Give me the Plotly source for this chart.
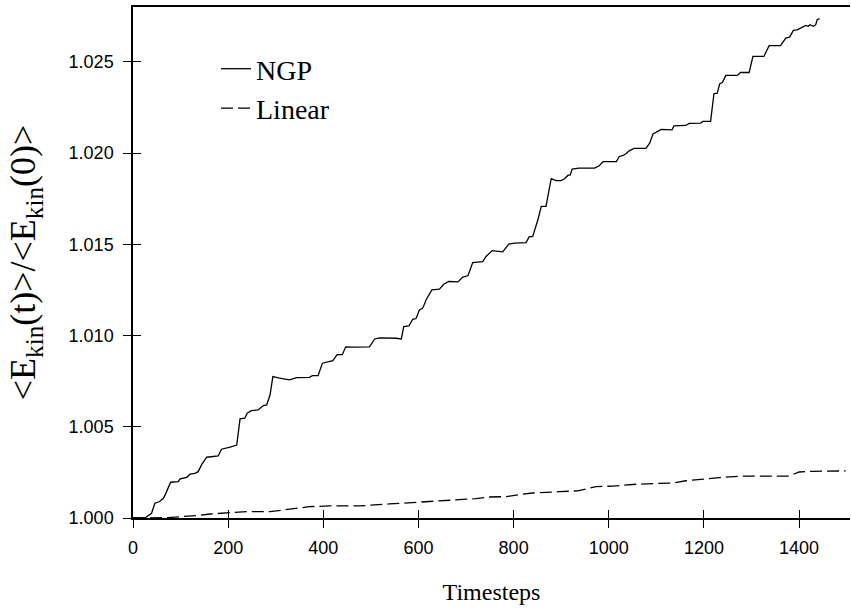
import plotly.graph_objects as go

# ---------------- data ----------------
ngp_t = [0, 25, 39, 46, 55, 64, 69, 79, 95, 99, 113, 120, 130, 137, 144, 155, 179, 186, 204, 218,
         225, 235, 240, 249, 263, 274, 281, 288, 294, 308, 329, 344, 371, 377, 389, 398, 420, 429, 440, 447,
         462, 497, 508, 518, 553, 564, 569, 580, 588, 595, 602, 609, 616, 628, 644, 653, 664, 683, 693, 704,
         714, 735, 742, 755, 777, 790, 802, 826, 833, 840, 851, 858, 868, 879, 889, 900, 907, 914, 919, 923,
         937, 970, 980, 988, 1016, 1022, 1029, 1036, 1043, 1053, 1078, 1086, 1093, 1102, 1110, 1133, 1137, 1162, 1169, 1193,
         1198, 1214, 1221, 1228, 1233, 1239, 1246, 1270, 1277, 1295, 1303, 1326, 1337, 1361, 1372, 1380, 1388, 1396, 1403, 1414,
         1419, 1423, 1430, 1435, 1438, 1443]
ngp_e = [1.00000, 1.00000, 1.00026, 1.00081, 1.00089, 1.00108, 1.00135, 1.00196, 1.00199, 1.00214,
         1.00223, 1.00240, 1.00245, 1.00254, 1.00291, 1.00333, 1.00340, 1.00377, 1.00388, 1.00400,
         1.00543, 1.00547, 1.00574, 1.00588, 1.00592, 1.00616, 1.00620, 1.00674, 1.00775, 1.00766,
         1.00757, 1.00769, 1.00771, 1.00780, 1.00780, 1.00848, 1.00862, 1.00895, 1.00895, 1.00938,
         1.00936, 1.00938, 1.00981, 1.00987, 1.00985, 1.00981, 1.01049, 1.01053, 1.01089, 1.01093,
         1.01140, 1.01150, 1.01195, 1.01250, 1.01254, 1.01281, 1.01296, 1.01294, 1.01320, 1.01327,
         1.01400, 1.01405, 1.01433, 1.01465, 1.01458, 1.01501, 1.01506, 1.01509, 1.01542, 1.01542,
         1.01634, 1.01707, 1.01707, 1.01859, 1.01849, 1.01849, 1.01859, 1.01877, 1.01880, 1.01912,
         1.01917, 1.01917, 1.01930, 1.01953, 1.01953, 1.01981, 1.01985, 1.01996, 1.02012, 1.02025,
         1.02025, 1.02054, 1.02105, 1.02118, 1.02129, 1.02127, 1.02149, 1.02151, 1.02162, 1.02164,
         1.02173, 1.02173, 1.02325, 1.02328, 1.02379, 1.02387, 1.02425, 1.02425, 1.02441, 1.02441,
         1.02529, 1.02529, 1.02588, 1.02589, 1.02630, 1.02635, 1.02672, 1.02675, 1.02685, 1.02699,
         1.02694, 1.02703, 1.02694, 1.02703, 1.02730, 1.02736]

lin_t = [0, 71, 99, 134, 162, 183, 204, 239, 288, 315, 344, 371, 413, 476, 539, 616, 658, 686, 721, 749,
         784, 812, 840, 896, 935, 973, 1008, 1057, 1134, 1162, 1197, 1232, 1281, 1379, 1400, 1428, 1498]
lin_e = [1.00000, 1.00002, 1.00007, 1.00013, 1.00022, 1.00026, 1.00031, 1.00035, 1.00035, 1.00044,
         1.00056, 1.00062, 1.00066, 1.00066, 1.00077, 1.00089, 1.00099, 1.00104, 1.00106, 1.00115,
         1.00117, 1.00128, 1.00137, 1.00144, 1.00149, 1.00172, 1.00175, 1.00185, 1.00192, 1.00204,
         1.00214, 1.00221, 1.00230, 1.00230, 1.00252, 1.00256, 1.00258]

x_ticks = [0, 200, 400, 600, 800, 1000, 1200, 1400]
y_ticks = [1.000, 1.005, 1.010, 1.015, 1.020, 1.025]
y_tick_labels = ["1.000", "1.005", "1.010", "1.015", "1.020", "1.025"]
x_range = [0, 1507]
y_range = [1.000, 1.028]

SERIF = "Liberation Serif, Times New Roman, serif"
SANS = "Liberation Sans, Arial, sans-serif"

fig = go.Figure()
fig.add_trace(go.Scatter(x=ngp_t, y=ngp_e, mode="lines", name="NGP",
                         legendgroup="a",
                         line=dict(color="black", width=1.3)))
fig.add_trace(go.Scatter(x=lin_t, y=lin_e, mode="lines", name="Linear",
                         legendgroup="b",
                         line=dict(color="black", width=1.3, dash="12px,5px")))
# helper trace so the overlay axes (inner halves of the crossing ticks) are drawn
fig.add_trace(go.Scatter(x=[None], y=[None], xaxis="x2", yaxis="y2",
                         showlegend=False, hoverinfo="skip"))

common = dict(showgrid=False, zeroline=False, tickcolor="black", tickwidth=1.3, ticklen=8,
              automargin=False)

fig.update_layout(
    width=851, height=613,
    paper_bgcolor="white", plot_bgcolor="white",
    margin=dict(l=133, r=1, t=7, b=95),
    showlegend=True,
    legend=dict(x=(216 - 133) / 717, y=(518 - 44) / 511,
                xanchor="left", yanchor="top", bgcolor="rgba(0,0,0,0)",
                font=dict(family=SERIF, size=28, color="black"),
                tracegroupgap=0),
    xaxis=dict(range=x_range, tickvals=x_ticks, ticks="outside",
               showline=True, linecolor="black", linewidth=1.5, mirror=True,
               tickfont=dict(family=SANS, size=18, color="black"),
               ticklabelstandoff=5,
               title=dict(text="Timesteps", font=dict(family=SERIF, size=24, color="black"),
                          standoff=26),
               **common),
    yaxis=dict(range=y_range, tickvals=y_ticks, ticktext=y_tick_labels, ticks="outside",
               showline=True, linecolor="black", linewidth=1.5, mirror=False,
               tickfont=dict(family=SANS, size=18, color="black"),
               ticklabelstandoff=6,
               title=dict(text="&lt;E<sub>kin</sub>(t)&gt;/&lt;E<sub>kin</sub>(0)&gt;",
                          font=dict(family=SERIF, size=36, color="black"), standoff=22),
               **common),
    xaxis2=dict(overlaying="x", range=x_range, tickvals=x_ticks, ticks="inside",
                showticklabels=False, showline=False, anchor="y", side="bottom", **common),
    yaxis2=dict(overlaying="y", range=y_range, tickvals=y_ticks, ticks="inside",
                showticklabels=False, showline=False, anchor="x", side="left", **common),
)

fig.write_html("out.html", config={"displayModeBar": False},
               post_script="document.body.style.margin='0';")
